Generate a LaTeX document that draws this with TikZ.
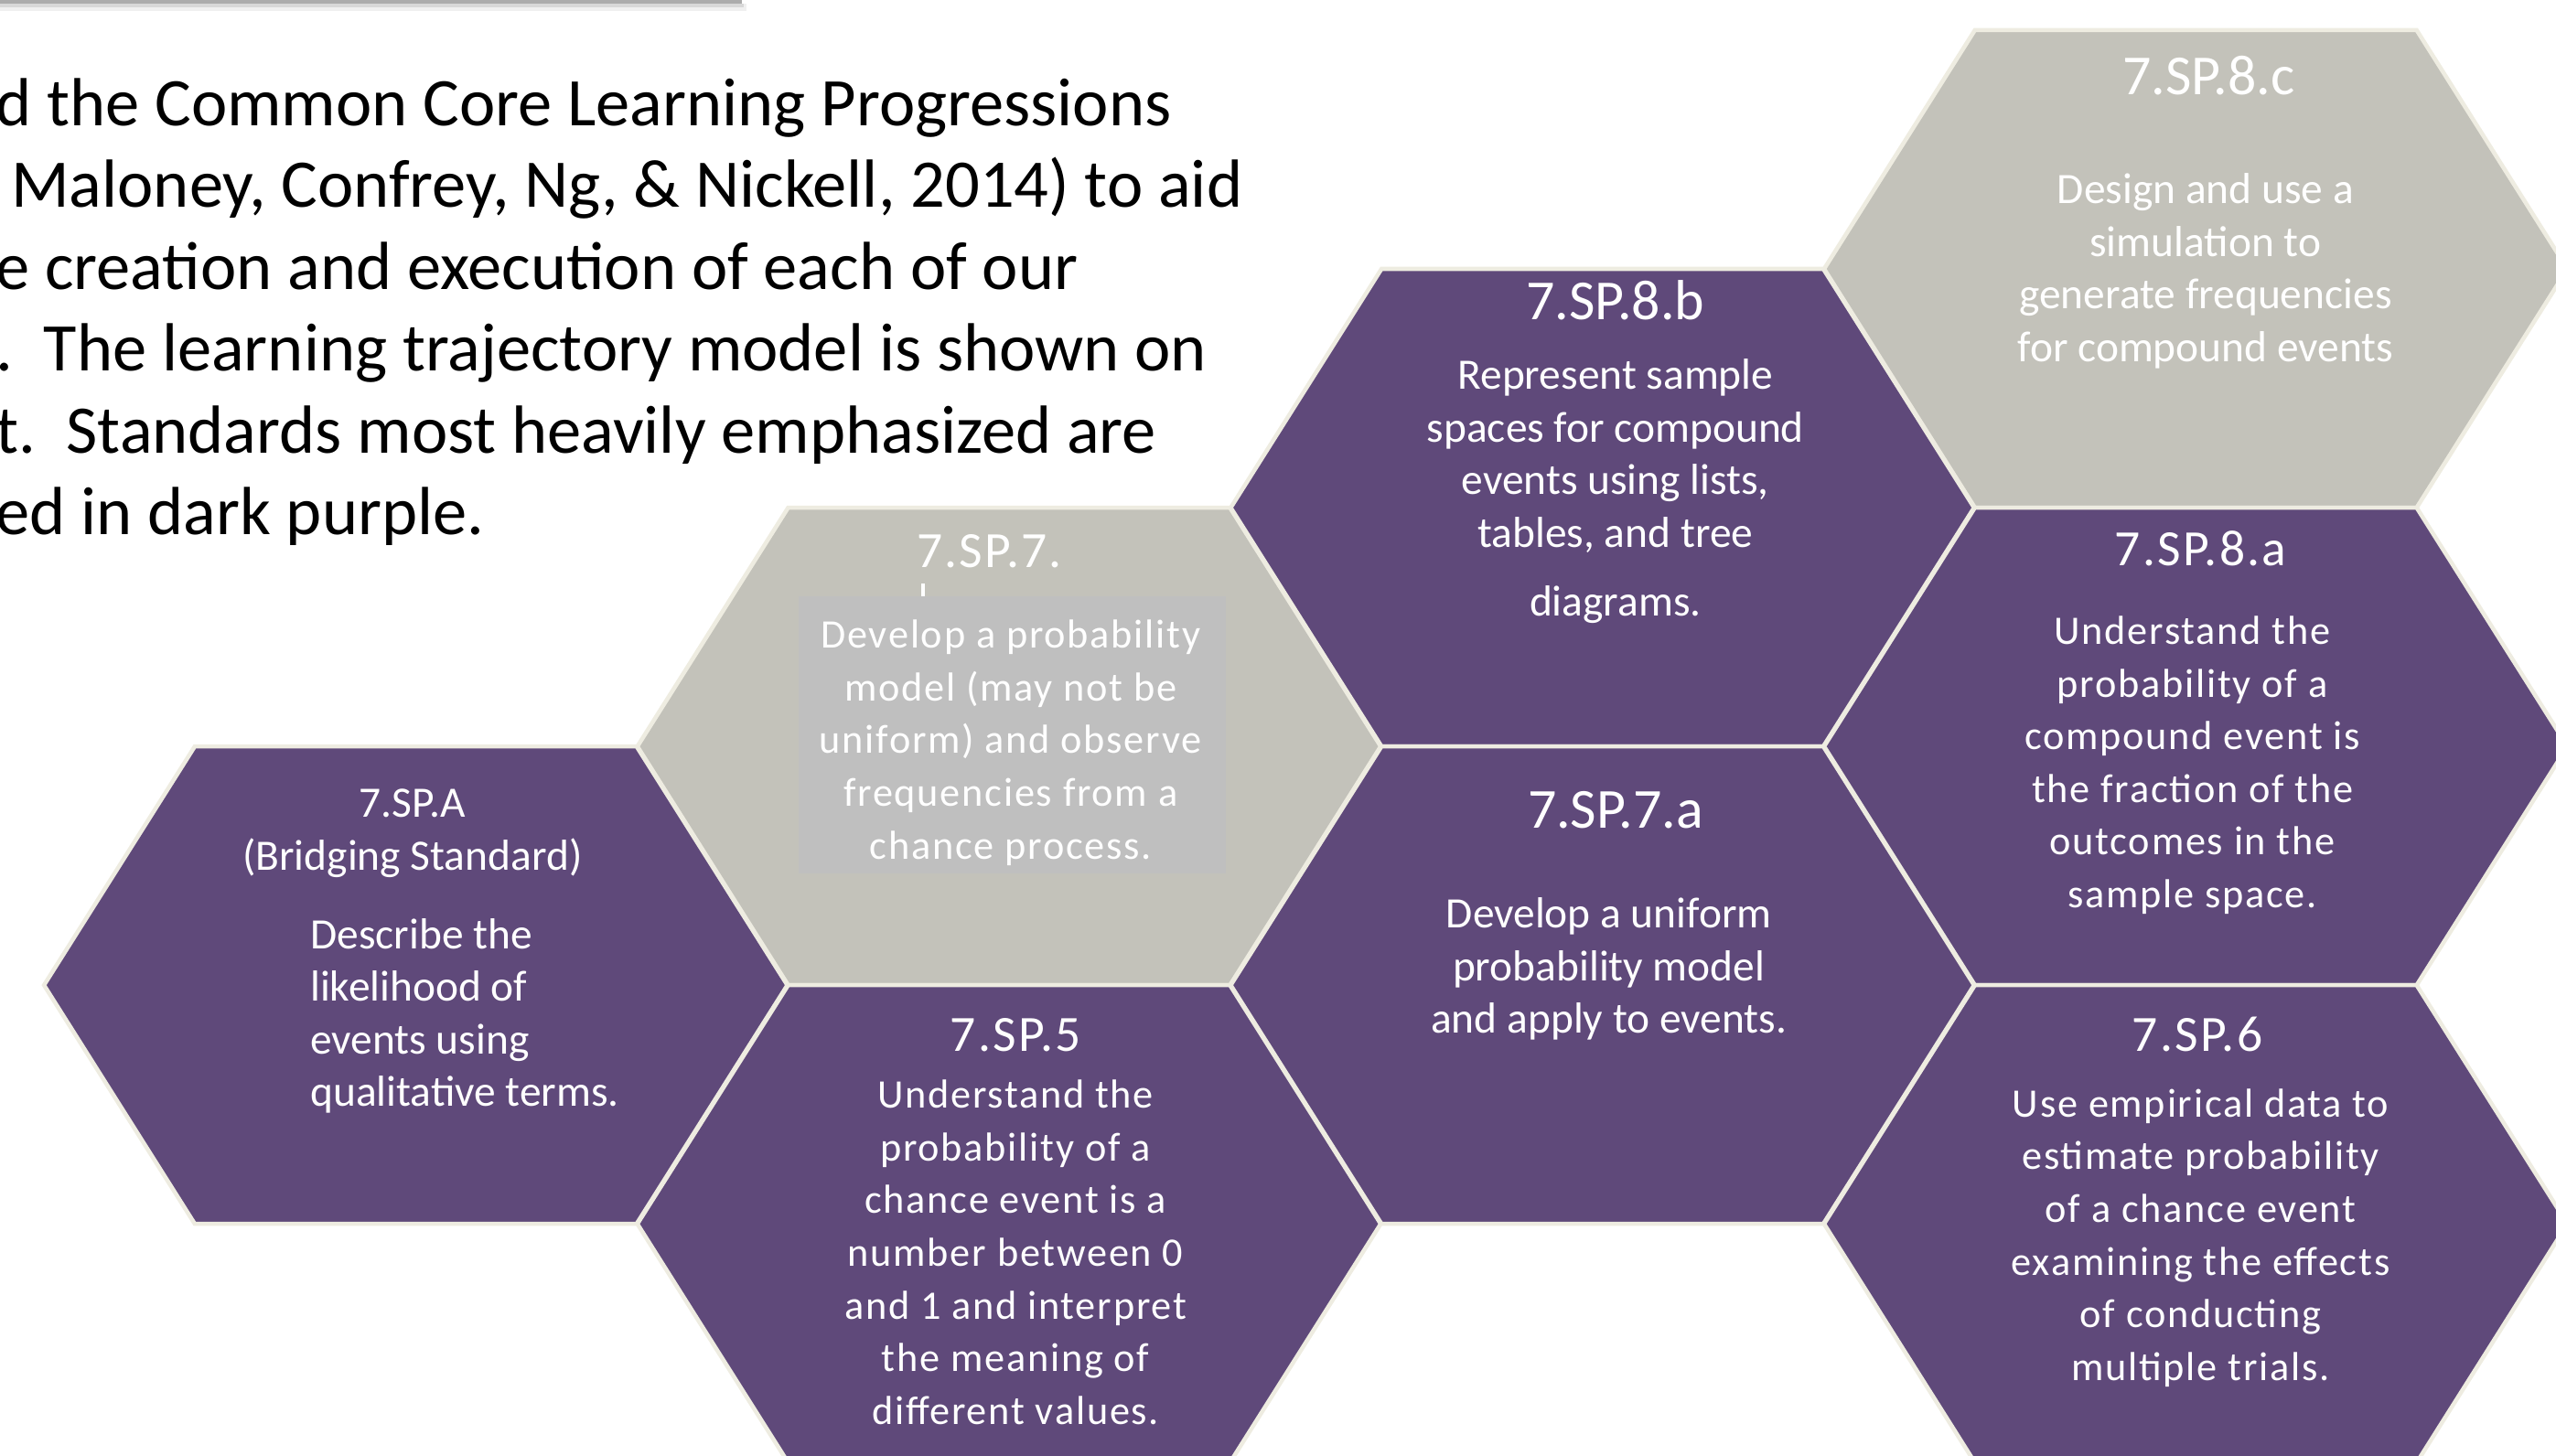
\documentclass[tikz,border=0pt]{standalone}
\usepackage{fontspec}
\setmainfont{Carlito}
\newfontfamily\espace[LetterSpace=4]{Carlito}
\usetikzlibrary{positioning}
\definecolor{violetfonce}{RGB}{95,73,122}
\definecolor{grisdoux}{RGB}{195,194,186}
\definecolor{griscadre}{RGB}{191,191,191}
\definecolor{creme}{RGB}{238,236,225}

% alvéole : centre (#1,#2), couleur #3
\newcommand{\alveole}[3]{%
  \filldraw[fill=#3, draw=creme, line width=1.3pt]
    (#1-228,#2) -- (#1-135.5,#2-146.5) -- (#1+135.5,#2-146.5) -- (#1+228,#2)
    -- (#1+135.5,#2+146.5) -- (#1-135.5,#2+146.5) -- cycle;}

% ancre base = ligne de base de la dernière ligne
\tikzset{
  titre/.style={text=white, inner sep=0pt, anchor=base, font=\fontsize{17.6}{21}\selectfont},
  corps/.style={text=white, inner sep=0pt, anchor=base, align=center, font=\fontsize{13.5}{16.4}\selectfont},
  titrelarge/.style={titre, font=\espace\fontsize{15.8}{21}\selectfont},
  corpslarge/.style={corps, font=\espace\fontsize{12.6}{16.4}\selectfont},
}

\begin{document}
\begin{tikzpicture}[x=0.017819cm, y=-0.017819cm]
    \useasboundingbox (0,0) rectangle (1568,893);
    \clip (0,0) rectangle (1568,893);

    % barre du haut
    \fill[black, opacity=0.06] (0,2) rectangle (458,7);
    \fill[black, opacity=0.10] (0,2) rectangle (456,4.5);
    \fill[gray!65] (0,0) rectangle (455,2.5);

    % texte de gauche
    \node[anchor=base west, align=left, inner sep=0pt, font=\fontsize{21.2}{25.45}\selectfont] (texte) at (-3,328)
      {d the Common Core Learning Progressions\\\ Maloney, Confrey, Ng, \& Nickell, 2014) to aid\\e creation and execution of each of our\\.\ \ The learning trajectory model is shown on\\t.\ \ Standards most heavily emphasized are\\ed in dark purple.};

    % nid d'abeilles
    \alveole{255}{604.5}{violetfonce}
    \alveole{619}{458}{grisdoux}
    \alveole{619}{751}{violetfonce}
    \alveole{983}{311.5}{violetfonce}
    \alveole{983}{604.5}{violetfonce}
    \alveole{1347}{165}{grisdoux}
    \alveole{1347}{458}{violetfonce}
    \alveole{1347}{751}{violetfonce}

    % 7.SP.A
    \node[corps] (titreA) at (253,534) {7.SP.A\\(Bridging Standard)};
    \node[corps, anchor=base west, align=left] (corpsA) at (190,679)
      {Describe the\\likelihood of\\events using\\qualitative terms.};

    % 7.SP.7
    \node[titrelarge] (titre7) at (607,348) {7.SP.7.};
    \fill[white] (565,358) rectangle (567.5,367);
    \fill[griscadre] (490,366) rectangle (752,536);
    \node[corpslarge] (corps7) at (620,527)
      {Develop a probability\\model (may not be\\uniform) and observe\\frequencies from a\\chance process.};

    % 7.SP.5
    \node[titrelarge] (titre5) at (623,645) {7.SP.5};
    \node[corpslarge] (corps5) at (623,874)
      {Understand the\\probability of a\\chance event is a\\number between 0\\and 1 and interpret\\the meaning of\\different values.};

    % 7.SP.8.b
    \node[titre] (titre8b) at (991,196) {7.SP.8.b};
    \node[corps] (corps8b) at (991,378)
      {Represent sample\\spaces for compound\\events using lists,\\tables, and tree\\[5pt]diagrams.};

    % 7.SP.7.a
    \node[titre] (titre7a) at (991,508) {7.SP.7.a};
    \node[corps] (corps7a) at (987,634)
      {Develop a uniform\\probability model\\and apply to events.};

    % 7.SP.8.c
    \node[titre] (titre8c) at (1355,58) {7.SP.8.c};
    \node[corps] (corps8c) at (1353,222)
      {Design and use a\\simulation to\\generate frequencies\\for compound events};

    % 7.SP.8.a
    \node[titrelarge] (titre8a) at (1350,347) {7.SP.8.a};
    \node[corpslarge] (corps8a) at (1345,557)
      {Understand the\\probability of a\\compound event is\\the fraction of the\\outcomes in the\\sample space.};

    % 7.SP.6
    \node[titrelarge] (titre6) at (1348,645) {7.SP.6};
    \node[corpslarge] (corps6) at (1350,847)
      {Use empirical data to\\estimate probability\\of a chance event\\examining the effects\\of conducting\\multiple trials.};
\end{tikzpicture}
\end{document}
